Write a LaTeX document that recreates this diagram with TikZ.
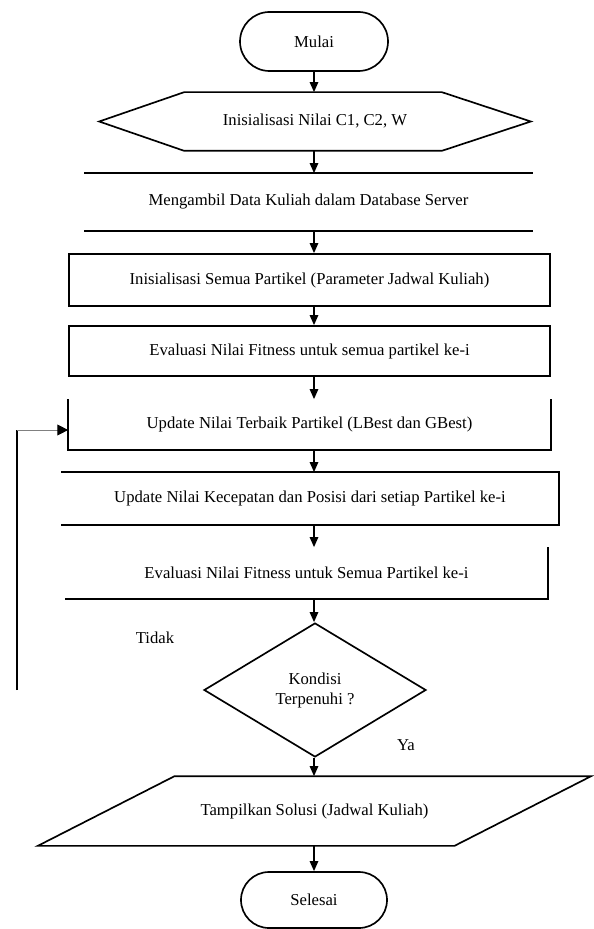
\documentclass[tikz,border=0pt]{standalone}
\usepackage{fontspec}
\setmainfont{Liberation Serif}
\usetikzlibrary{arrows.meta,shapes.geometric,shapes.misc}

\begin{document}
\begin{tikzpicture}[
		x=0.6pt, y=-0.6pt,
		line width=1pt,
		font=\fontsize{10}{12}\selectfont,
		terminal/.style={rounded rectangle, draw, minimum width=88.8pt, minimum height=35.4pt, inner sep=0pt},
		polos/.style={rectangle, inner sep=0pt},
		kotak/.style={rectangle, draw, inner sep=0pt},
		keputusan/.style={diamond, draw, aspect=1.66, minimum width=133.2pt, minimum height=80.4pt, inner sep=0pt, align=center},
		panah/.style={-{Triangle[width=5pt,length=6pt,color=black]}},
		panahbalik/.style={-{Triangle[width=6.5pt,length=6.5pt,color=black]}},
		]
	\useasboundingbox (0,0) rectangle (594,929);
	\coordinate (kolom) at (314,0);
	\node [terminal] (mulai) at (314,41.5) {Mulai};
	\node [polos, minimum width=258pt, minimum height=34.2pt] (inisial) at (315,121.5) {Inisialisasi Nilai C1, C2, W};
	\draw (inisial.west) -- ([xshift=51pt]inisial.north west) -- ([xshift=-53.4pt]inisial.north east) -- (inisial.east) -- ([xshift=-53.4pt]inisial.south east) -- ([xshift=51pt]inisial.south west) -- cycle;
	\node [polos, minimum width=268.2pt, minimum height=33.6pt] (ambil) at (308.5,202) {Mengambil Data Kuliah dalam Database Server};
	\draw (ambil.north west) -- (ambil.north east) (ambil.south west) -- (ambil.south east);
	\node [kotak, minimum width=288.6pt, minimum height=31.2pt] (partikel) at (309.5,280) {Inisialisasi Semua Partikel (Parameter Jadwal Kuliah)};
	\node [kotak, minimum width=288.6pt, minimum height=30pt] (evaluasi) at (309.5,351) {Evaluasi Nilai Fitness untuk semua partikel ke-i};
	\node [polos, minimum width=288.6pt, minimum height=29.4pt] (terbaik) at (309.5,424.5) {Update Nilai Terbaik Partikel (LBest dan GBest)};
	\draw (terbaik.north west) -- (terbaik.south west) -- (terbaik.south east) -- (terbaik.north east);
	\node [polos, minimum width=297.6pt, minimum height=30.6pt] (kecepatan) at (310,498.5) {Update Nilai Kecepatan dan Posisi dari setiap Partikel ke-i};
	\draw (kecepatan.south west) -- (kecepatan.south east) -- (kecepatan.north east) -- (kecepatan.north west);
	\node [polos, minimum width=288.6pt, minimum height=30pt] (fitness) at (306.5,573) {Evaluasi Nilai Fitness untuk Semua Partikel ke-i};
	\draw (fitness.south west) -- (fitness.south east) -- (fitness.north east);
	\node [keputusan] (kondisi) at (315,690) {Kondisi\\Terpenuhi ?};
	\node [polos, minimum width=249pt, minimum height=40.8pt] (solusi) at (314.5,811) {Tampilkan Solusi (Jadwal Kuliah)};
	\draw ([xshift=41pt]solusi.north west) -- ([xshift=41pt]solusi.north east) -- ([xshift=-41pt]solusi.south east) -- ([xshift=-41pt]solusi.south west) -- cycle;
	\node [terminal, minimum width=87.6pt, minimum height=33.6pt] (selesai) at (314,900) {Selesai};
	\node (tidak) at (155,638) {Tidak};
	\node (ya) at (406,745) {Ya};
	\coordinate (balik) at (17,690);
	\coordinate (sudut) at (17,430);
	\foreach \a/\b in {mulai/inisial, inisial/ambil, ambil/partikel, partikel/evaluasi, evaluasi/terbaik, terbaik/kecepatan, kecepatan/fitness, fitness/kondisi, kondisi/solusi, solusi/selesai}
		\draw [panah] (\a.south -| kolom) -- (\b.north -| kolom);
	\draw (balik) -- (sudut);
	\draw [panahbalik, line width=0.5pt, gray] (sudut) -- (sudut -| terbaik.west);
\end{tikzpicture}
\end{document}
